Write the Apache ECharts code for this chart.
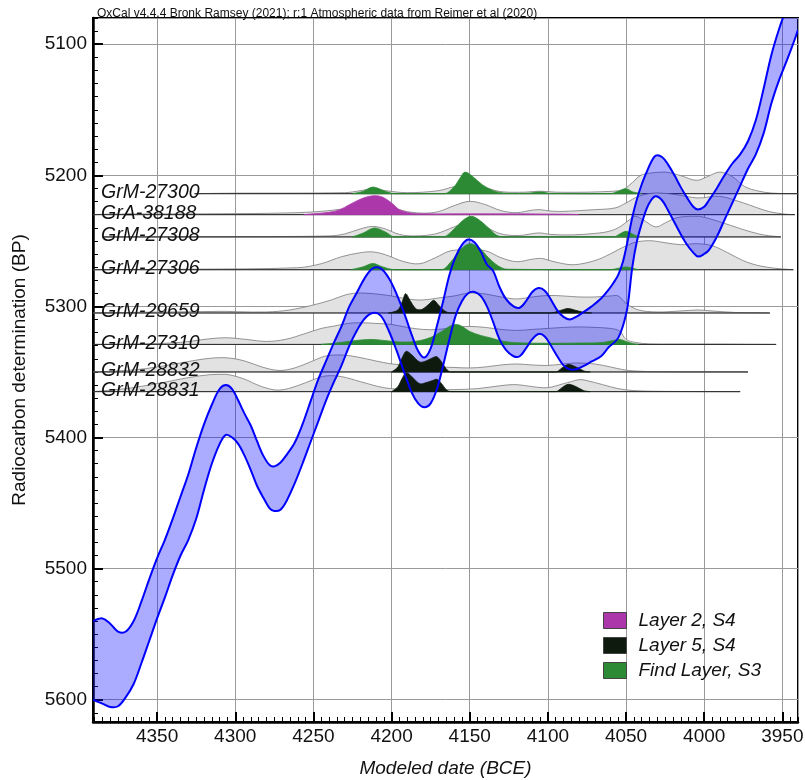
<!DOCTYPE html>
<html><head><meta charset="utf-8">
<script src="https://cdn.jsdelivr.net/npm/echarts@6/dist/echarts.min.js"></script>
<style>html,body{margin:0;padding:0;background:#fff}#c{width:805px;height:780px}</style>
</head><body><div id="c"></div>
<script>
// ---------------- DATA ----------------
const titleText = 'OxCal v4.4.4 Bronk Ramsey (2021); r:1 Atmospheric data from Reimer et al (2020)';
const xName = 'Modeled date (BCE)';
const yName = 'Radiocarbon determination (BP)';
const xMin = 3940, xMax = 4391;   // BCE (axis reversed)
const yMin = 5080, yMax = 5617;   // BP (axis reversed)

// Calibration curve (IntCal20 +/- 1 sigma) : year BCE, upper (young) BP, lower (old) BP
const curveYears = [4391,4385,4380,4375,4370,4365,4360,4355,4350,4345,4340,4335,4330,4325,4320,4315,4310,4306,4302,4298,4294,4290,4286,4282,4278,4275,4271,4267,4262,4257,4252,4247,4242,4237,4232,4227,4222,4217,4212,4207,4202,4197,4192,4187,4183,4179,4175,4171,4167,4163,4159,4155,4151,4147,4143,4139,4135,4131,4127,4122,4118,4114,4110,4106,4102,4098,4094,4090,4086,4082,4078,4072,4066,4061,4058,4055,4052,4049,4046,4043,4040,4037,4034,4031,4027,4023,4019,4015,4011,4007,4004,4000,3997,3992,3987,3982,3977,3972,3967,3962,3957,3952,3947,3942,3940];
const curveUpper = [5540,5538,5542,5548,5548,5540,5525,5508,5492,5478,5462,5445,5428,5408,5390,5375,5363,5360,5363,5372,5382,5391,5403,5414,5421,5422,5419,5413,5404,5390,5373,5356,5342,5328,5315,5300,5289,5278,5271,5271,5278,5290,5305,5322,5334,5339,5332,5315,5296,5276,5262,5253,5249,5251,5258,5268,5273,5285,5294,5300,5301,5296,5289,5286,5288,5295,5303,5308,5310,5308,5305,5300,5294,5287,5282,5276,5266,5250,5232,5218,5207,5198,5190,5185,5186,5192,5200,5209,5217,5224,5226,5224,5219,5210,5200,5191,5184,5174,5158,5134,5108,5088,5071,5052,5045];
const curveLower = [5600,5603,5605.5,5605,5598,5588,5572,5555,5538,5522,5505,5490,5478,5462,5440,5420,5405,5398,5400,5405,5414,5425,5437,5446,5454,5456,5455,5448,5435,5420,5404,5388,5372,5358,5345,5330,5318,5309,5305,5307,5318,5333,5350,5366,5374,5377,5374,5363,5345,5325,5307,5296,5290,5289,5292,5300,5312,5325,5333,5338,5338,5332,5325,5321,5323,5330,5338,5345,5348,5348,5346,5342,5338,5331,5328,5324,5315,5300,5270,5250,5237,5226,5219,5216,5219,5227,5236,5245,5253,5259,5262,5260,5257,5247,5234,5221,5208,5195,5184,5168,5145,5127,5112,5096,5089];

// Samples (top to bottom), their measured BP and group
const sampleNames = ['GrM-27300','GrA-38188','GrM-27308','GrM-27306','GrM-29659','GrM-27310','GrM-28832','GrM-28831'];
const sampleBP    = [5214, 5230, 5247, 5272, 5305, 5329, 5350, 5365];
const sampleGroup = ['Find Layer, S3','Layer 2, S4','Find Layer, S3','Find Layer, S3','Layer 5, S4','Find Layer, S3','Layer 5, S4','Layer 5, S4'];
const groupNames  = ['Layer 2, S4','Layer 5, S4','Find Layer, S3'];
const groupColors = ['#ab37ab','#0e1a0e','#2b8a33'];

// Probability densities: [year BCE, relative height]
// unmodelled (grey) likelihoods
const grey_GrM27300 = [[4326,0],[4300,0.5],[4230,1],[4220,3],[4212,5],[4204,3],[4190,1],[4170,3],[4160,7],[4150,9],[4140,6],[4130,2],[4115,1.5],[4105,2.5],[4095,1.5],[4075,1.5],[4065,2],[4058,2.5],[4052,4],[4046,11],[4041,18],[4035,20.5],[4025,21.6],[4015,18],[4005,13.3],[3998,17],[3990,21.6],[3982,17],[3974,7],[3965,2.5],[3957,0.6],[3948,0.1],[3940,0]];
const grey_GrA38188 = [[4391,0],[4380,0.5],[4300,1],[4260,2],[4240,4],[4225,7],[4211,9],[4200,7],[4190,3],[4180,1.5],[4170,3],[4160,9],[4150,13.3],[4140,10],[4130,4],[4120,2],[4110,4.5],[4105,5],[4098,3.5],[4090,3.3],[4070,5],[4057,6.7],[4050,11.7],[4042,18.3],[4031,21.7],[4018,20],[4004,16.7],[3990,18.3],[3975,11.7],[3959,3.3],[3948,0.5],[3942,0]];
const grey_GrM27308 = [[4385,0],[4300,0.3],[4240,1],[4230,3],[4220,8],[4212,10.5],[4204,8],[4195,2.5],[4185,1],[4172,3],[4160,10],[4150,15],[4140,10],[4130,3],[4118,1.5],[4106,4],[4098,2.5],[4085,2],[4070,3.5],[4061,5.6],[4054,10],[4048,17],[4044,20.6],[4039,17],[4031,10],[4025,14],[4018,19],[4010,20.6],[4003,20.6],[3991,15.6],[3975,7.3],[3965,3],[3959,1.3],[3951,0]];
const grey_GrM27306 = [[4391,0],[4330,0.5],[4260,2],[4245,6],[4232,13],[4220,17],[4212,17.8],[4204,15],[4192,8],[4182,6],[4172,12],[4162,19],[4150,19.5],[4140,19],[4130,12],[4120,8],[4110,10.5],[4104,11.2],[4096,8],[4085,5],[4075,7],[4065,12],[4055,20],[4045,27],[4035,29],[4025,27],[4015,25],[4005,26],[3995,24],[3985,17],[3975,9],[3965,4],[3955,1.5],[3946,0.3],[3943,0]];
const grey_GrM29659 = [[4391,0],[4370,0.5],[4330,1.2],[4315,1.5],[4306,1.6],[4298,1.2],[4280,1],[4265,3],[4250,8],[4238,13.3],[4229,18.3],[4220,20],[4210,19],[4200,17],[4190,14],[4180,13],[4170,15],[4160,17],[4150,20],[4140,19],[4130,16],[4120,14],[4110,16],[4100,17.5],[4090,17],[4080,16],[4070,16],[4060,17],[4055,17],[4050,9.5],[4042,3],[4030,1],[4015,2],[4004,3],[3995,2],[3980,0.5],[3965,0.2],[3958,0]];
const grey_GrM27310 = [[4391,0],[4360,0.5],[4335,2],[4320,5],[4306,6.7],[4293,5],[4280,3],[4268,5],[4255,11],[4245,16],[4237,18.3],[4228,21],[4220,21.7],[4210,21],[4200,20],[4190,17],[4180,15],[4170,15],[4160,17],[4150,18],[4140,17],[4130,15],[4120,14],[4110,15],[4100,16],[4090,17],[4080,17.5],[4070,17],[4060,16],[4054,13.3],[4050,5],[4044,2],[4035,0.5],[4020,0.3],[3990,0.3],[3970,0.1],[3954,0]];
const grey_GrM28832 = [[4391,0],[4365,2],[4350,5],[4335,9],[4320,13],[4306,14.2],[4294,11],[4283,5],[4272,1.5],[4262,4],[4252,10],[4242,16],[4232,17],[4222,15],[4210,11],[4200,8],[4190,7],[4180,6],[4170,5],[4160,4.5],[4150,4],[4140,5],[4130,7],[4120,8],[4110,7],[4100,6.5],[4090,8],[4082,9],[4070,8],[4060,5],[4052,2.3],[4045,1],[4030,0.3],[3990,0.1],[3972,0]];
const grey_GrM28831 = [[4391,0],[4370,3],[4350,8],[4330,14],[4316,17],[4306,17.3],[4295,13],[4283,5],[4272,1.5],[4260,6],[4250,12],[4242,15.7],[4232,15],[4220,10],[4205,4],[4190,2],[4175,2],[4160,2],[4145,3],[4130,6],[4120,7],[4110,5],[4100,4],[4090,8],[4085,10],[4080,12],[4075,11],[4065,7],[4055,3],[4045,1],[4020,0.2],[3977,0]];
// modelled (coloured) posteriors
const post_GrM27300 = [[4225,0],[4218,2.5],[4212,6.6],[4205,3],[4198,0],[4166,0],[4160,7],[4156,16],[4153,21.6],[4148,17],[4142,9],[4135,3],[4130,1],[4125,0.3],[4112,0.5],[4107,1.6],[4103,1.6],[4099,0.3],[4060,0],[4055,2.5],[4050,5],[4046,2],[4040,0]];
const post_GrA38188 = [[4256,0],[4250,0.8],[4240,2.3],[4233,5],[4227,10],[4218,16.7],[4211,19],[4206,17.7],[4200,11.7],[4195,5],[4188,1.7],[4180,0.8],[4150,0.8],[4100,0.6],[4085,0.3],[4080,0]];
const post_GrM27308 = [[4225,0],[4218,4],[4211,9],[4204,5],[4198,0],[4167,0],[4160,8],[4154,17],[4149,20.6],[4144,17],[4138,9],[4133,2],[4128,0],[4058,0],[4054,3],[4050,5.6],[4046,3],[4042,0]];
const post_GrM27306 = [[4226,0],[4218,3],[4212,6.2],[4206,3],[4198,0],[4168,0],[4162,8],[4156,20],[4150,26],[4144,22],[4138,12],[4132,4],[4126,0.5],[4060,0],[4055,1.5],[4050,2.8],[4046,1.5],[4042,0]];
const post_GrM29659 = [[4202,0],[4196,3],[4193,12],[4191,19.3],[4188,12],[4185,5],[4183,3.3],[4180,4],[4176,9],[4173,12.6],[4170,8],[4166,2],[4162,0],[4098,0],[4094,1.5],[4090,3.5],[4087,4.5],[4083,3],[4078,1],[4072,0]];
const post_GrM27310 = [[4245,0],[4235,1.5],[4225,3.5],[4214,5],[4205,4],[4195,2.5],[4185,3],[4175,7],[4168,13],[4163,18],[4160,20],[4156,19],[4150,13],[4143,9],[4137,6.7],[4129,3.3],[4120,1.7],[4100,1.2],[4075,1.5],[4065,2],[4058,4],[4054,5],[4050,3],[4046,1],[4042,0]];
const post_GrM28832 = [[4200,0],[4196,5],[4193,15],[4190.5,20.8],[4187,17],[4182,10],[4178,11],[4174,14],[4171,15.2],[4168,10],[4165,3],[4162,0],[4095,0],[4091,4],[4087,7.5],[4082,5],[4077,1],[4073,0]];
const post_GrM28831 = [[4200,0],[4196,5],[4193,14],[4190.5,19],[4187,15],[4182,8],[4178,9],[4174,11],[4171,12.3],[4168,8],[4165,2],[4162,0],[4095,0],[4091,4],[4087,7.3],[4082,5],[4077,1],[4073,0]];

const greyList = [grey_GrM27300, grey_GrA38188, grey_GrM27308, grey_GrM27306, grey_GrM29659, grey_GrM27310, grey_GrM28832, grey_GrM28831];
const postList = [post_GrM27300, post_GrA38188, post_GrM27308, post_GrM27306, post_GrM29659, post_GrM27310, post_GrM28832, post_GrM28831];

// ---------------- CHART ----------------
const FONT = '"Liberation Sans", Arial, Helvetica, sans-serif';
const H2BP = 1 / 1.311; // relative height unit -> BP units
const SMOOTH = 0.35;

function distSeries(name, base, pts, fill, stroke, lw, z, withBaseline, label) {
  const data = pts.map(p => [p[0], base - p[1] * H2BP]);
  return {
    type: 'custom', name: name, clip: true, z: z, silent: true,
    itemStyle: { color: fill },
    data: data,
    renderItem: function (params, api) {
      if (params.dataIndex !== 0) return null;
      const poly = data.map(d => api.coord(d));
      const b0 = api.coord([data[0][0], base]);
      const b1 = api.coord([data[data.length - 1][0], base]);
      const children = [{
        type: 'polygon',
        shape: { points: poly, smooth: SMOOTH, smoothConstraint: [poly[0], poly[0]] },
        style: { fill: fill, stroke: stroke, lineWidth: lw }
      }];
      if (withBaseline) {
        children.push({ type: 'line', shape: { x1: b0[0], y1: b0[1], x2: b1[0], y2: b1[1] },
          style: { stroke: '#2a2a2a', lineWidth: 1 } });
      }
      if (label) {
        const lp = api.coord([xMax, base]);
        children.push({ type: 'text', x: lp[0] + 8, y: lp[1] - 1,
          style: { text: label, font: 'italic 19.5px ' + FONT, fill: '#111', align: 'left', verticalAlign: 'middle' } });
      }
      return { type: 'group', children: children };
    }
  };
}

const upperPts = curveYears.map((y, i) => [y, curveUpper[i]]);
const lowerPts = curveYears.map((y, i) => [y, curveLower[i]]);

function bandSeries(z, drawFill, drawEdges) {
  return {
    type: 'custom', name: drawFill ? 'calBand' : 'calEdges', clip: true, z: z, silent: true,
    data: upperPts,
    renderItem: function (params, api) {
      if (params.dataIndex !== 0) return null;
      const up = upperPts.map(d => api.coord(d));
      const lo = lowerPts.map(d => api.coord(d));
      const children = [];
      if (drawFill) {
        children.push({ type: 'polygon', shape: { points: up.concat(lo.slice().reverse()), smooth: SMOOTH },
          style: { fill: 'rgba(0,0,255,0.33)', stroke: null } });
      }
      if (drawEdges) {
        children.push({ type: 'polyline', shape: { points: up, smooth: SMOOTH }, style: { stroke: '#0000ff', lineWidth: 2, fill: null } });
        children.push({ type: 'polyline', shape: { points: lo, smooth: SMOOTH }, style: { stroke: '#0000ff', lineWidth: 2, fill: null } });
      }
      return { type: 'group', children: children };
    }
  };
}

const series = [];
sampleNames.forEach((n, i) => {
  series.push(distSeries(n, sampleBP[i], greyList[i], '#e2e2e2', '#7a7a7a', 0.8, 2, true, n));
});
series.push(bandSeries(3, true, false));
sampleNames.forEach((n, i) => {
  const gi = groupNames.indexOf(sampleGroup[i]);
  series.push(distSeries(sampleGroup[i], sampleBP[i], postList[i], groupColors[gi], groupColors[gi], 0.8, 4, false, null));
});
series.push(bandSeries(5, false, true));

const plain = v => String(Math.round(v));

const chart = echarts.init(document.getElementById('c'), null, { renderer: 'canvas' });
chart.setOption({
  animation: false,
  backgroundColor: '#fff',
  title: { text: titleText, left: 92, top: 3, textStyle: { fontSize: 12, fontWeight: 'normal', color: '#111', fontFamily: FONT } },
  grid: { left: 93, right: 7, top: 18, bottom: 58, containLabel: false, outerBoundsMode: 'none',
          show: true, borderColor: '#000', borderWidth: 2, backgroundColor: 'transparent' },
  legend: {
    data: groupNames, orient: 'vertical', left: 603, top: 611, padding: 0, icon: 'rect',
    itemWidth: 23, itemHeight: 16, itemGap: 6, selectedMode: false,
    itemStyle: { borderColor: '#444', borderWidth: 1 },
    textStyle: { fontSize: 19, fontStyle: 'italic', color: '#111', fontFamily: FONT, lineHeight: 19, padding: [0, 0, 0, 7] }
  },
  xAxis: [
    { type: 'value', inverse: true, min: xMin, max: xMax, splitNumber: 9, position: 'bottom',
      name: xName, nameLocation: 'middle', nameGap: 37,
      nameTextStyle: { fontSize: 19, fontStyle: 'italic', color: '#111', fontFamily: FONT },
      axisLine: { show: true, lineStyle: { color: '#000', width: 2.5 } },
      axisTick: { show: true, inside: true, length: 10, lineStyle: { color: '#000', width: 2 } },
      axisLabel: { fontSize: 19, color: '#111', margin: 5, fontFamily: FONT, showMinLabel: false, showMaxLabel: false, formatter: plain },
      splitLine: { show: true, lineStyle: { color: '#9a9a9a', width: 1 } } },
    { type: 'value', inverse: true, min: xMin, max: xMax, interval: 5, position: 'bottom',
      axisLine: { show: false }, axisLabel: { show: false }, splitLine: { show: false },
      axisTick: { show: true, inside: true, length: 5, lineStyle: { color: '#000', width: 1 } } }
  ],
  yAxis: [
    { type: 'value', inverse: true, min: yMin, max: yMax, splitNumber: 5, position: 'left',
      name: yName, nameLocation: 'middle', nameGap: 64,
      nameTextStyle: { fontSize: 19, color: '#111', fontFamily: FONT },
      axisLine: { show: true, lineStyle: { color: '#000', width: 2.5 } },
      axisTick: { show: true, inside: true, length: 10, lineStyle: { color: '#000', width: 2 } },
      axisLabel: { fontSize: 19, color: '#111', margin: 6, fontFamily: FONT, showMinLabel: false, showMaxLabel: false, formatter: plain },
      splitLine: { show: true, lineStyle: { color: '#9a9a9a', width: 1 } } },
    { type: 'value', inverse: true, min: yMin, max: yMax, interval: 10, position: 'left',
      axisLine: { show: false }, axisLabel: { show: false }, splitLine: { show: false },
      axisTick: { show: true, inside: true, length: 5, lineStyle: { color: '#000', width: 1 } } }
  ],
  series: series
});
</script>
</body></html>
